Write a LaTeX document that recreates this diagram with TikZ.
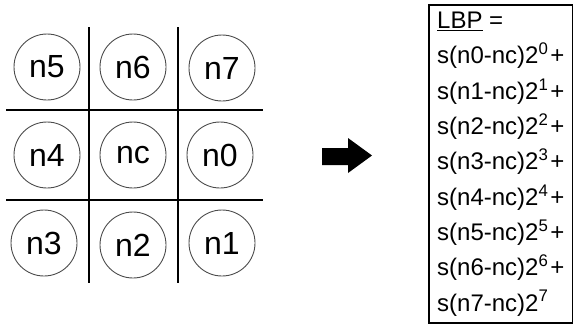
\documentclass[tikz,border=0pt]{standalone}
\usepackage{fontspec}
\setmainfont{Liberation Sans}
\usepackage{tikz}
\usetikzlibrary{positioning}
\tikzset{
  cell/.style={circle,draw=black!70,line width=0.9pt,minimum size=66pt,
               inner sep=0pt,font=\fontsize{32}{32}\selectfont},
  gridline/.style={line width=2pt,color=black},
  termbox/.style={rectangle,draw=black,line width=1.5pt,inner sep=0pt,
                  minimum width=144pt,minimum height=318pt,anchor=north west},
  term/.style={anchor=base west,inner sep=0pt,font=\fontsize{24}{28}\selectfont}
}

\begin{document}
\begin{tikzpicture}[x=1pt,y=-1pt]
  \useasboundingbox (0,0) rectangle (573,325);

  % neighbourhood
  \node[cell] (n5) at (47,67)  {n5};
  \node[cell] (n6) at (133,67) {n6};
  \node[cell] (n7) at (222,68) {n7};
  \node[cell] (n4) at (47,155) {n4};
  \node[cell] (nc) at (133,155) {nc};
  \node[cell] (n0) at (220,155) {n0};
  \node[cell] (n3) at (44,243) {n3};
  \node[cell] (n2) at (133,245) {n2};
  \node[cell] (n1) at (222,243) {n1};

  \draw[gridline] (89,27) -- (89,283);
  \draw[gridline] (178,27) -- (178,283);
  \draw[gridline] (6,110) -- (263,110);
  \draw[gridline] (6,200) -- (263,200);

  % arrow
  \fill[black] (322,148) -- (348,148) -- (348,138) -- (372,155.5)
      -- (348,173) -- (348,165) -- (322,165) -- cycle;

  % formula
  \node[termbox] (box) at (428,4) {};
  \node[term] (lbp) at (437,28.6) {\underline{LBP} =};
  \foreach \i in {0,...,6}
    \node[term] (t\i) at (437,{63.9+35.3*\i})
      {s(n\i-nc)2\textsuperscript{\i}\hspace{2pt}+};
  \node[term] (t7) at (437,311) {s(n7-nc)2\textsuperscript{7}};
\end{tikzpicture}
\end{document}
